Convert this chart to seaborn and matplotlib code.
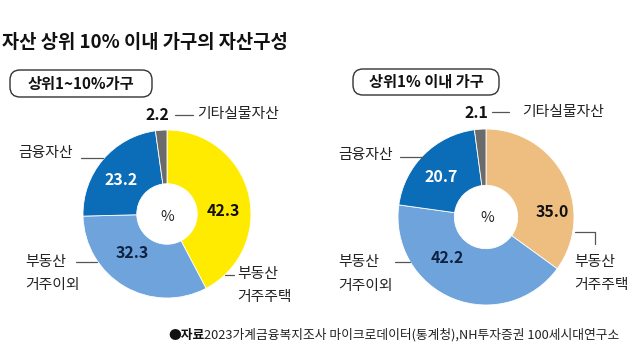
import matplotlib
matplotlib.use('Agg')
import matplotlib.pyplot as plt
from matplotlib.patches import FancyBboxPatch
import seaborn as sns

# data
categories = ['부동산 거주주택', '부동산 거주이외', '금융자산', '기타실물자산']
top1_10 = [42.3, 32.3, 23.2, 2.2]
top1 = [35.0, 42.2, 20.7, 2.1]
colors_left = ['#FFEB00', '#6FA3DC', '#0B6DB7', '#6B6B6B']
colors_right = ['#EDBE80', '#6FA3DC', '#0B6DB7', '#6B6B6B']
value_colors = ['#111111', '#0E2240', '#FFFFFF', '#111111']

sns.set_theme(style='white')
plt.rcParams['font.family'] = ['Noto Sans CJK KR', 'DejaVu Sans']

W, H = 640, 361
fig = plt.figure(figsize=(6.4, 3.61), dpi=100)
fig.patch.set_facecolor('white')


def donut(cx, cy, r, values, colors):
    ax = fig.add_axes([(cx - r) / W, (H - cy - r) / H, 2 * r / W, 2 * r / H])
    ax.pie(values, colors=colors, startangle=90, counterclock=False,
           wedgeprops=dict(width=0.64, edgecolor='white', linewidth=0.6))
    ax.set_aspect('equal')
    ax.set_xlim(-1, 1)
    ax.set_ylim(-1, 1)
    ax.axis('off')
    return ax


donut(167, 214, 84, top1_10, colors_left)
donut(486, 217, 88, top1, colors_right)

# overlay axes in pixel coordinates, drawn above the donuts
ov = fig.add_axes([0, 0, 1, 1])
ov.set_zorder(10)
ov.patch.set_alpha(0)
ov.set_xlim(0, W)
ov.set_ylim(H, 0)
ov.axis('off')

txt = '#222222'
line_c = '#555555'
fs = 10.7

# title
ov.text(2, 42, '자산 상위 10% 이내 가구의 자산구성', fontsize=13.5, fontweight='bold',
        color='#111111', va='center', ha='left')

# group boxes
for (x0, y0, w, h, label) in [(4, 70, 154, 27, '상위1~10%가구'),
                              (347, 69, 158, 26, '상위1% 이내 가구')]:
    ov.add_patch(FancyBboxPatch((x0 + 6, y0), w - 12, h,
                                boxstyle='round,pad=0,rounding_size=10',
                                fc='white', ec='#333333', lw=1.0))
    ov.text(x0 + w / 2, y0 + h / 2, label, fontsize=11, fontweight='bold',
            color='#111111', ha='center', va='center')


def labels(vals, pos):
    # value labels, one per segment
    for v, (x, y), c in zip(vals, pos, value_colors):
        ov.text(x, y, f'{v:.1f}', fontsize=11.5, fontweight='bold', color=c,
                ha='center', va='center')


# left chart labels
labels(top1_10, [(223, 211), (132, 253), (121, 180), (157, 115)])
ov.text(167, 217, '%', fontsize=fs, color=txt, ha='center', va='center')
ov.plot([175, 193], [115, 115], color=line_c, lw=0.9)
ov.text(197, 114, '기타실물자산', fontsize=fs, color=txt, ha='left', va='center')
ov.text(18, 153, '금융자산', fontsize=fs, color=txt, ha='left', va='center')
ov.plot([81, 103], [158, 158], color=line_c, lw=0.9)
ov.text(25, 262, '부동산', fontsize=fs, color=txt, ha='left', va='center')
ov.text(25, 285, '거주이외', fontsize=fs, color=txt, ha='left', va='center')
ov.plot([76, 97], [262, 262], color=line_c, lw=0.9)
ov.plot([225, 234], [275, 275], color=line_c, lw=0.9)
ov.text(237, 274, '부동산', fontsize=fs, color=txt, ha='left', va='center')
ov.text(237, 297, '거주주택', fontsize=fs, color=txt, ha='left', va='center')

# right chart labels
labels(top1, [(552, 212), (447, 258), (441, 177), (476, 113)])
ov.text(487, 218, '%', fontsize=fs, color=txt, ha='center', va='center')
ov.plot([492, 509], [112, 112], color=line_c, lw=0.9)
ov.text(522, 112, '기타실물자산', fontsize=fs, color=txt, ha='left', va='center')
ov.text(338, 155, '금융자산', fontsize=fs, color=txt, ha='left', va='center')
ov.plot([400, 424], [157, 157], color=line_c, lw=0.9)
ov.text(338, 262, '부동산', fontsize=fs, color=txt, ha='left', va='center')
ov.text(338, 286, '거주이외', fontsize=fs, color=txt, ha='left', va='center')
ov.plot([395, 410], [262, 262], color=line_c, lw=0.9)
ov.plot([575, 595, 595], [232, 232, 244], color=line_c, lw=0.9)
ov.text(574, 262, '부동산', fontsize=fs, color=txt, ha='left', va='center')
ov.text(574, 285, '거주주택', fontsize=fs, color=txt, ha='left', va='center')

# source
src = ov.text(168, 335, '●자료', fontsize=9.2, fontweight='bold', color='#111111',
              ha='left', va='center')
ov.annotate('2023가계금융복지조사 마이크로데이터(통계청),NH투자증권 100세시대연구소',
            xy=(1, 0.5), xycoords=src, fontsize=9.2, color='#222222',
            ha='left', va='center')

fig.savefig('out.png', dpi=100, facecolor='white')
